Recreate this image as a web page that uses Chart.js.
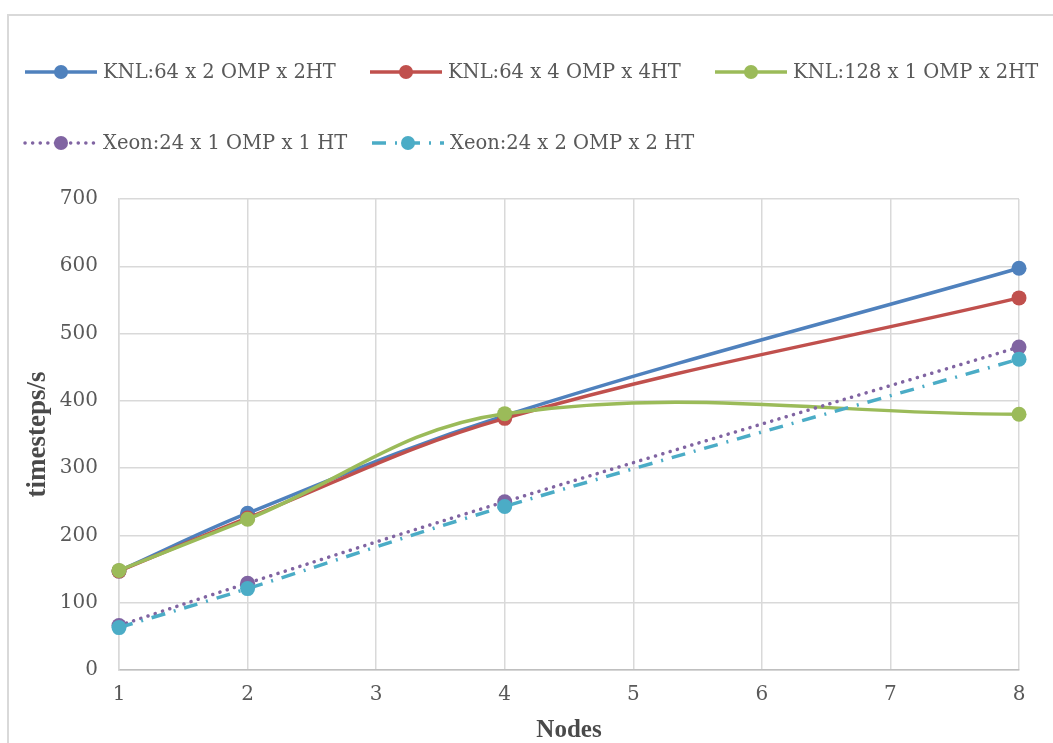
<!DOCTYPE html>
<html>
<head>
<meta charset="utf-8">
<script src="https://cdn.jsdelivr.net/npm/chart.js@4/dist/chart.umd.min.js"></script>
<style>
  html, body { margin: 0; padding: 0; background: #fff; }
  #wrap { width: 1053px; height: 743px; position: relative; }
</style>
</head>
<body>
<div id="wrap"><canvas id="nodeChart" width="1053" height="743"></canvas></div>
<script>
// node counts on the x axis
const nodes = [1, 2, 4, 8];

// timesteps/s for each run config
const knl64x2 = [147, 233, 378, 597];
const knl64x4 = [147, 226, 374, 553];
const knl128x1 = [148, 224, 381, 380];
const xeon24x1 = [66, 129, 250, 480];
const xeon24x2 = [63, 121, 243, 462];

const seriesNames = [
  "KNL:64 x 2 OMP x 2HT",
  "KNL:64 x 4 OMP x 4HT",
  "KNL:128 x 1 OMP x 2HT",
  "Xeon:24 x 1 OMP x 1 HT",
  "Xeon:24 x 2 OMP x 2 HT",
];
const seriesColors = ["#4f81bd", "#c0504d", "#9bbb59", "#8064a2", "#4bacc6"];
const seriesDash = [[], [], [], [0.1, 7.5], [14, 9, 2, 9]];
const seriesValues = [knl64x2, knl64x4, knl128x1, xeon24x1, xeon24x2];

const textGray = "#595959";
const titleGray = "#4a4a4a";
const gridGray = "#d9d9d9";

const toPoints = (vals) => vals.map((v, i) => ({ x: nodes[i], y: v }));

// where each legend entry sits (row 1 has three, row 2 has two)
const legendSpots = [
  { x: 25, y: 72 }, { x: 370, y: 72 }, { x: 715, y: 72 },
  { x: 25, y: 143 }, { x: 372, y: 143 },
];

// Excel-style legend: line sample with marker in the middle
const excelLegend = {
  id: "excelLegend",
  afterDraw(chart) {
    const ctx = chart.ctx;
    chart.data.datasets.forEach((ds, i) => {
      const spot = legendSpots[i];
      ctx.save();
      ctx.strokeStyle = ds.borderColor;
      ctx.lineWidth = ds.borderWidth;
      ctx.setLineDash(ds.borderDash);
      ctx.lineCap = ds.borderCapStyle;
      ctx.beginPath();
      ctx.moveTo(spot.x, spot.y);
      ctx.lineTo(spot.x + 72, spot.y);
      ctx.stroke();
      ctx.setLineDash([]);
      ctx.fillStyle = ds.borderColor;
      ctx.beginPath();
      ctx.arc(spot.x + 36, spot.y, 7, 0, Math.PI * 2);
      ctx.fill();
      ctx.fillStyle = textGray;
      ctx.font = "19.5px 'DejaVu Serif'";
      ctx.textBaseline = "middle";
      ctx.fillText(ds.label, spot.x + 78, spot.y + 1);
      ctx.restore();
    });
  },
};

// light frame round the chart area, like the Excel chart border
const chartFrame = {
  id: "chartFrame",
  beforeDraw(chart) {
    const ctx = chart.ctx;
    ctx.save();
    ctx.strokeStyle = gridGray;
    ctx.lineWidth = 2;
    ctx.strokeRect(8, 15, 1060, 760);
    ctx.restore();
  },
};

const datasets = seriesValues.map((vals, i) => ({
  label: seriesNames[i],
  data: toPoints(vals),
  borderColor: seriesColors[i],
  backgroundColor: seriesColors[i],
  borderWidth: 3.5,
  borderDash: seriesDash[i],
  borderCapStyle: i === 3 ? "round" : "butt",
  pointRadius: 7.5,
  pointHoverRadius: 7.5,
  pointBorderWidth: 0,
  tension: 0.38,
  clip: false,
  order: 10 - i,
}));

new Chart(document.getElementById("nodeChart"), {
  type: "line",
  data: { datasets: datasets },
  plugins: [chartFrame, excelLegend],
  options: {
    responsive: false,
    animation: false,
    layout: { padding: { top: 199, right: 34, left: 0, bottom: 0 } },
    plugins: { legend: { display: false }, tooltip: { enabled: false } },
    scales: {
      x: {
        type: "linear",
        min: 1,
        max: 8,
        afterFit: (s) => { s.height = 73; },
        ticks: {
          stepSize: 1,
          padding: 13,
          color: textGray,
          font: { family: "DejaVu Serif", size: 20 },
        },
        grid: { color: gridGray, lineWidth: 1.5, drawTicks: false },
        border: { color: "#bfbfbf", width: 1.5 },
        title: {
          display: true,
          text: "Nodes",
          color: titleGray,
          padding: { top: 0, bottom: 0 },
          font: { family: "Liberation Serif", size: 25, weight: "bold", lineHeight: 1 },
        },
      },
      y: {
        min: 0,
        max: 700,
        afterFit: (s) => { s.width = 119; },
        ticks: {
          stepSize: 100,
          padding: 21,
          color: textGray,
          font: { family: "DejaVu Serif", size: 20 },
        },
        grid: { color: gridGray, lineWidth: 1.5, drawTicks: false },
        border: { color: gridGray, width: 1.5 },
        title: {
          display: true,
          text: "timesteps/s",
          color: titleGray,
          padding: { top: 25, bottom: 0 },
          font: { family: "Liberation Serif", size: 27, weight: "bold", lineHeight: 1 },
        },
      },
    },
  },
});
</script>
</body>
</html>
